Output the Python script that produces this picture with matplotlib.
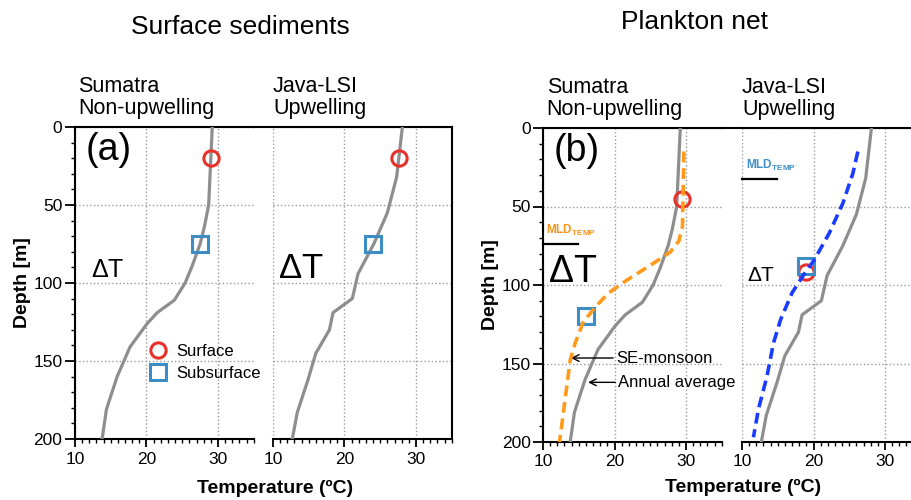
import matplotlib
matplotlib.use("Agg")
import matplotlib.pyplot as plt
from matplotlib.lines import Line2D
from matplotlib.ticker import MultipleLocator

plt.rcParams['font.family'] = ['Liberation Sans', 'DejaVu Sans']
plt.rcParams['mathtext.fontset'] = 'custom'
plt.rcParams['mathtext.rm'] = 'Liberation Sans'
plt.rcParams['mathtext.bf'] = 'Liberation Sans:bold'

# Annual average temperature profiles (depth in m, temperature in degC)
sum_depth = [0, 20, 50, 64, 75, 89, 100, 111, 119, 126, 141, 160, 181, 200]
sum_temp = [29.2, 29.0, 28.7, 28.1, 27.5, 26.4, 25.4, 23.9, 21.5, 20.1, 17.7, 15.9, 14.4, 13.8]
java_depth = [0, 20, 32, 55, 75, 94, 110, 115, 119, 130, 145, 162, 183, 200]
java_temp = [28.1, 27.6, 27.3, 26.0, 24.1, 21.9, 21.1, 19.6, 18.4, 17.9, 16.0, 14.9, 13.4, 12.7]

# SE-monsoon profiles
sum_se_depth = [15, 42, 63, 72, 79, 86, 97, 105, 114, 124, 137, 148, 169, 190, 200]
sum_se_temp = [29.7, 29.6, 29.5, 29.0, 27.8, 25.5, 21.7, 19.2, 17.3, 15.6, 14.5, 13.8, 13.2, 12.6, 12.3]
java_se_depth = [15, 29, 48, 67, 84, 93, 105, 122, 137, 158, 179, 197]
java_se_temp = [26.2, 25.5, 24.1, 22.2, 20.1, 18.7, 17.0, 15.4, 14.4, 13.5, 12.3, 11.6]

# Surface / subsurface estimates: (temperature, depth)
sed_surface = [(29.0, 20), (27.6, 20)]
sed_subsurface = [(27.5, 75), (24.0, 75)]
net_surface = [(29.5, 45), (18.9, 91.5)]
net_subsurface = [(16.0, 120), (18.9, 88)]

# Mixed layer depth (m) for plankton net sites
mld = [74, 32.5]

site_labels = ["Sumatra\nNon-upwelling", "Java-LSI\nUpwelling"]

GRAY = '#8e8e8e'
RED = '#e8312a'
SQ = '#3c8dc6'
ORANGE = '#ff9a1a'
BLUE = '#1a3cff'

fig = plt.figure(figsize=(9.12, 5.0), dpi=100)

W = 0.196
axes_a = [fig.add_axes([0.0822, 0.122, W, 0.624]), fig.add_axes([0.2993, 0.122, W, 0.624])]
axes_b = [fig.add_axes([0.5954, 0.116, W, 0.628]), fig.add_axes([0.8136, 0.116, W, 0.628])]


def setup(ax, left):
    ax.set_xlim(10, 35)
    ax.set_ylim(200, 0)
    ax.xaxis.set_major_locator(MultipleLocator(10))
    ax.xaxis.set_minor_locator(MultipleLocator(1))
    ax.yaxis.set_major_locator(MultipleLocator(50))
    ax.yaxis.set_minor_locator(MultipleLocator(10))
    ax.grid(True, which='major', ls=':', color='#9a9a9a', lw=1)
    ax.tick_params(axis='x', which='major', direction='out', length=6, width=1.3,
                   labelsize=12.5, pad=3)
    ax.tick_params(axis='x', which='minor', direction='out', length=3, width=1)
    for s in ax.spines.values():
        s.set_linewidth(1.5)
    if left:
        ax.spines['right'].set_visible(False)
        ax.tick_params(axis='y', which='major', direction='out', length=7, width=1.3,
                       labelsize=12.5, pad=2)
        ax.tick_params(axis='y', which='minor', direction='out', length=3, width=1)
        ax.set_ylabel('Depth [m]', fontsize=14, fontweight='bold', labelpad=2)
    else:
        ax.spines['left'].set_visible(False)
        ax.tick_params(axis='y', which='both', left=False, labelleft=False)


for grp in (axes_a, axes_b):
    setup(grp[0], True)
    setup(grp[1], False)
    for ax, lab in zip(grp, site_labels):
        ax.text(0.0 if lab.startswith('Java') else 0.02, 1.025, lab, transform=ax.transAxes,
                fontsize=15.5, ha='left', va='bottom', linespacing=1.05)
    # top spine continues across the gap
    p0 = grp[0].get_position()
    p1 = grp[1].get_position()
    fig.add_artist(Line2D([p0.x1, p1.x0], [p0.y1, p0.y1], transform=fig.transFigure,
                          color='k', lw=1.5))

# (a) surface sediments
ax1, ax2 = axes_a
ax1.plot(sum_temp, sum_depth, color=GRAY, lw=2.3, zorder=3)
ax2.plot(java_temp, java_depth, color=GRAY, lw=2.3, zorder=3)
for ax, s, u in zip(axes_a, sed_surface, sed_subsurface):
    ax.plot(s[0], s[1], 'o', ms=11, mfc='none', mec=RED, mew=2.2, zorder=4, label='Surface')
    ax.plot(u[0], u[1], 's', ms=11.5, mfc='none', mec=SQ, mew=2.2, zorder=4, label='Subsurface')
ax1.legend(loc='center left', bbox_to_anchor=(0.37, 0.245), frameon=False, fontsize=12,
           handlelength=1.0, handletextpad=0.6, labelspacing=0.45, borderpad=0)
ax1.text(0.06, 0.985, '(a)', transform=ax1.transAxes, fontsize=27, va='top', ha='left')
ax1.text(12.2, 96, r'$\Delta$T', fontsize=18, va='baseline', ha='left')
ax2.text(10.7, 96.5, r'$\Delta$T', fontsize=25, va='baseline', ha='left')

# (b) plankton net
bx1, bx2 = axes_b
bx1.plot(sum_temp, sum_depth, color=GRAY, lw=2.3, zorder=3)
bx1.plot(sum_se_temp, sum_se_depth, color=ORANGE, lw=2.6, ls=(0, (3, 1.6)), zorder=4)
bx2.plot(java_temp, java_depth, color=GRAY, lw=2.3, zorder=3)
bx2.plot(java_se_temp, java_se_depth, color=BLUE, lw=2.6, ls=(0, (3, 1.6)), zorder=4)
for ax, s, u in zip(axes_b, net_surface, net_subsurface):
    ax.plot(s[0], s[1], 'o', ms=11, mfc='none', mec=RED, mew=2.2, zorder=3.5)
    ax.plot(u[0], u[1], 's', ms=11.5, mfc='none', mec=SQ, mew=2.2, zorder=3.5)
bx1.text(0.06, 0.985, '(b)', transform=bx1.transAxes, fontsize=27, va='top', ha='left')

bx1.plot([10, 14.9], [mld[0], mld[0]], color='k', lw=1.6, clip_on=False)
bx1.text(10.4, 67.5, r'$\mathbf{MLD_{TEMP}}$', color='#f7941d', fontsize=8.5, va='baseline')
bx2.plot([10, 14.9], [mld[1], mld[1]], color='k', lw=1.6, clip_on=False)
bx2.text(10.6, 26, r'$\mathbf{MLD_{TEMP}}$', color='#3f8fc8', fontsize=8.5, va='baseline')
bx1.text(10.7, 98, r'$\Delta$T', fontsize=27, va='baseline', ha='left')
bx2.text(10.7, 97.5, r'$\Delta$T', fontsize=15, va='baseline', ha='left')

arrow = dict(arrowstyle='->', color='k', lw=1, shrinkA=0, shrinkB=0)
bx1.annotate('SE-monsoon', xy=(13.9, 146.5), xytext=(20.2, 146.5), fontsize=12,
             va='center', arrowprops=arrow)
bx1.annotate('Annual average', xy=(16.3, 162), xytext=(20.5, 162), fontsize=12,
             va='center', arrowprops=arrow)

fig.text(275 / 912, 1 - 488 / 500, 'Temperature (ºC)', fontsize=14, fontweight='bold',
         ha='center', va='center')
fig.text(743 / 912, 1 - 487 / 500, 'Temperature (ºC)', fontsize=14, fontweight='bold',
         ha='center', va='center')
fig.text(240 / 912, 1 - 27 / 500, 'Surface sediments', fontsize=19, ha='center', va='center')
fig.text(695 / 912, 1 - 22 / 500, 'Plankton net', fontsize=19, ha='center', va='center')

fig.savefig('out.png', dpi=100)
